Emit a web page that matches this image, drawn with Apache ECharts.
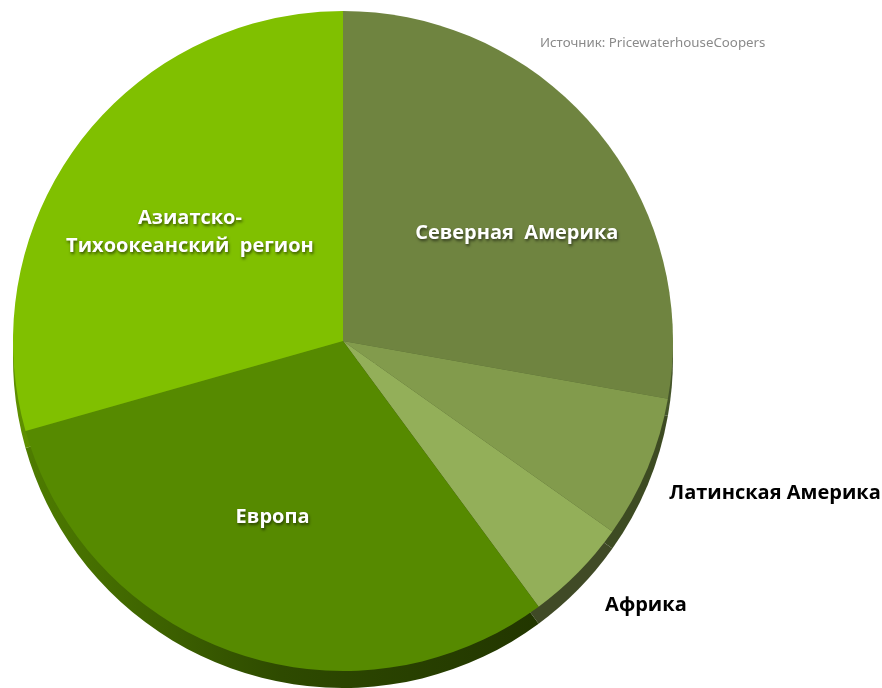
<!DOCTYPE html>
<html>
<head>
<meta charset="utf-8">
<script src="https://cdn.jsdelivr.net/npm/echarts@6/dist/echarts.min.js"></script>
<style>
  html, body { margin: 0; padding: 0; background: #ffffff; }
  #chart { width: 882px; height: 688px; }
</style>
</head>
<body>
<div id="chart"></div>
<script>
// Regions and their shares (%)
const regions = ['Северная  Америка', 'Латинская Америка', 'Африка', 'Азиатско-\nТихоокеанский  регион', 'Европа'];
const shares = [27.8, 7.0, 5.1, 29.4, 30.7];
const sourceNote = 'Источник: PricewaterhouseCoopers';

// draw order clockwise from 12 o'clock
const order = [0, 1, 2, 4, 3];

const topColors = {
  0: '#6F8440',
  1: '#829B4C',
  2: '#93AF59',
  3: '#80C000',
  4: '#568A00'
};
const sideColors = {
  0: '#45552A',
  1: '#3D4B22',
  2: '#404A26',
  3: '#5E8F00',
  4: { type: 'linear', x: 0, y: 0, x2: 1, y2: 0,
       colorStops: [{ offset: 0, color: '#4E7C00' }, { offset: 0.5, color: '#2E4A00' }, { offset: 1, color: '#223600' }] }
};

const labelStyle = {
  0: { color: '#fff', offset: [45, 0] },
  1: { color: '#000', offset: [277, 88] },
  2: { color: '#000', offset: [183, 147] },
  3: { color: '#fff', offset: [-19, -7] },
  4: { color: '#fff', offset: [-16, 17] }
};

const textFont = '"Open Sans", "Noto Sans", sans-serif';

const topData = order.map(i => {
  const white = labelStyle[i].color === '#fff';
  return {
    name: regions[i],
    value: shares[i],
    itemStyle: { color: topColors[i] },
    label: {
      show: true,
      position: 'inside',
      offset: labelStyle[i].offset,
      color: labelStyle[i].color,
      fontFamily: textFont,
      fontWeight: 'bold',
      fontSize: 20,
      lineHeight: 28,
      align: 'center',
      textShadowColor: white ? 'rgba(0,0,0,0.55)' : 'transparent',
      textShadowBlur: white ? 3 : 0,
      textShadowOffsetX: white ? 1 : 0,
      textShadowOffsetY: white ? 2 : 0,
      formatter: '{b}'
    }
  };
});

const sideData = order.map(i => ({
  name: regions[i],
  value: shares[i],
  itemStyle: { color: sideColors[i] }
}));

const chart = echarts.init(document.getElementById('chart'), null, { renderer: 'canvas' });
chart.setOption({
  animation: false,
  backgroundColor: '#ffffff',
  graphic: [{
    type: 'text',
    left: 540,
    top: 37,
    style: {
      text: sourceNote,
      fill: '#8a8a8a',
      font: '13.3px "Noto Sans", sans-serif'
    }
  }],
  series: [
    {
      // lower copy forms the visible rim of the disc
      type: 'pie',
      silent: true,
      center: [343, 358],
      radius: 330,
      startAngle: 90,
      clockwise: true,
      label: { show: false },
      labelLine: { show: false },
      itemStyle: { borderWidth: 0 },
      z: 1,
      data: sideData
    },
    {
      type: 'pie',
      center: [343, 341],
      radius: 330,
      startAngle: 90,
      clockwise: true,
      labelLine: { show: false },
      itemStyle: { borderWidth: 0 },
      emphasis: { disabled: true },
      z: 2,
      data: topData
    }
  ]
});
</script>
</body>
</html>
